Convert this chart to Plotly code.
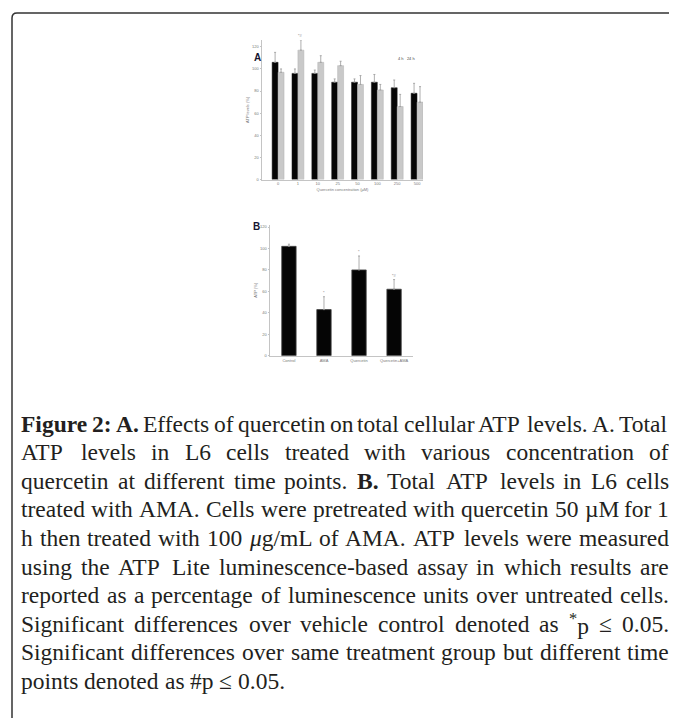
import re
import plotly.graph_objects as go

# page body has an 8px margin, so the figure is drawn 8px in from the window corner
OFF = 8
W, H = 677 - OFF, 718 - OFF

# ---------------- data ----------------
a_categories = ["0", "1", "10", "25", "50", "100", "250", "500"]
a_series_names = ["4 h", "24 h"]
a_series1 = [106, 96, 96, 88, 88, 88, 83, 78]
a_series1_err = [9, 4, 3, 3, 3, 7, 7, 9]
a_series2 = [97, 117, 106, 103, 86, 81, 66, 70]
a_series2_err = [3, 9, 6, 4, 8, 5, 11, 14]
a_marks1 = ["", "", "", "", "*", "*", "*", "*"]
a_marks2 = ["", "*#", "#", "#", "*", "*", "*#", "*#"]
a_yticks = [0, 20, 40, 60, 80, 100, 120]

b_categories = ["Control", "AMA", "Quercetin", "Quercetin+AMA"]
b_values = [102, 43, 80, 62]
b_err = [2, 12, 13, 9]
b_marks = ["", "*", "*", "*#"]
b_yticks = [0, 20, 40, 60, 80, 100, 120]

caption_lines = [
    "<b>Figure</b> <b>2:</b> <b>A.</b> Effects of quercetin on total cellular ATP levels. A. Total",
    "ATP levels in L6 cells treated with various concentration of",
    "quercetin at different time points. <b>B.</b> Total ATP levels in L6 cells",
    "treated with AMA. Cells were pretreated with quercetin 50 µM for 1",
    "h then treated with 100 <i>μ</i>g/mL of AMA. ATP levels were measured",
    "using the ATP Lite luminescence-based assay in which results are",
    "reported as a percentage of luminescence units over untreated cells.",
    "Significant differences over vehicle control denoted as <sup>*</sup>p ≤ 0.05.",
    "Significant differences over same treatment group but different time",
    "points denoted as #p ≤ 0.05.",
]

# ---------------- helpers (window pixel -> paper) ----------------
def px(xp):
    return (xp - OFF) / W


def py(yp):
    return 1 - (yp - OFF) / H


REG = {' ': 250, 'a': 444, 'b': 500, 'c': 444, 'd': 500, 'e': 444, 'f': 333, 'g': 500,
       'h': 500, 'i': 278, 'j': 278, 'k': 500, 'l': 278, 'm': 778, 'n': 500, 'o': 500,
       'p': 500, 'q': 500, 'r': 333, 's': 389, 't': 278, 'u': 500, 'v': 500, 'w': 722,
       'x': 500, 'y': 500, 'z': 444, 'A': 722, 'B': 667, 'C': 667, 'D': 722, 'E': 611,
       'F': 556, 'G': 722, 'H': 722, 'I': 333, 'L': 611, 'M': 889, 'P': 556, 'S': 556,
       'T': 611, '.': 250, ',': 250, ':': 278, '-': 333, '/': 278, '#': 500, '*': 500,
       '≤': 549, 'µ': 500, 'μ': 500, '(': 333, ')': 333}
for d in "0123456789":
    REG[d] = 500
BOLD = {'F': 611, 'i': 278, 'g': 500, 'u': 556, 'r': 444, 'e': 444, '2': 500, ':': 333,
        'A': 722, '.': 250, 'B': 667}


def word_width(word, fs):
    total = 0.0
    bold = False
    scale = 1.0
    for tok in re.split(r'(<[^>]+>)', word):
        if not tok:
            continue
        if tok.startswith('<'):
            closing = tok.startswith('</')
            t = tok.strip('<>/').lower()
            if t == 'b':
                bold = not closing
            elif t == 'sup':
                scale = 1.0 if closing else 0.7
            continue
        for ch in tok:
            w = BOLD.get(ch) if bold else None
            if w is None:
                w = REG.get(ch, 500)
            total += w * scale
    return total * fs / 1000.0


# ---------------- figure ----------------
fig = go.Figure()

fig.add_trace(go.Bar(
    x=a_categories, y=a_series1, name=a_series_names[0],
    offset=-0.3, width=0.3,
    marker=dict(color="#050505", line=dict(color="#222", width=0.5)),
    error_y=dict(type="data", array=a_series1_err, arrayminus=[0] * len(a_series1_err),
                 symmetric=False, color="#999", thickness=0.8, width=1),
    xaxis="x", yaxis="y", showlegend=False))
fig.add_trace(go.Bar(
    x=a_categories, y=a_series2, name=a_series_names[1],
    offset=0.0, width=0.3,
    marker=dict(color="#c9c9c9", line=dict(color="#b0b0b0", width=0.5)),
    error_y=dict(type="data", array=a_series2_err, arrayminus=[0] * len(a_series2_err),
                 symmetric=False, color="#999", thickness=0.8, width=1),
    xaxis="x", yaxis="y", showlegend=False))
fig.add_trace(go.Bar(
    x=b_categories, y=b_values, name="ATP",
    offset=-0.205, width=0.41,
    marker=dict(color="#050505", line=dict(color="#444", width=0.8)),
    error_y=dict(type="data", array=b_err, arrayminus=[0] * len(b_err),
                 symmetric=False, color="#999", thickness=0.8, width=1),
    xaxis="x2", yaxis="y2", showlegend=False))

annotations = []
tiny = dict(family="Liberation Sans, Arial", size=4, color="#777")

# significance marks
for c, v, e, m in zip(a_categories, a_series1, a_series1_err, a_marks1):
    if m:
        annotations.append(dict(x=c, y=v + e, xref="x", yref="y", text=m, showarrow=False,
                                xshift=-3, yanchor="bottom", font=tiny))
for c, v, e, m in zip(a_categories, a_series2, a_series2_err, a_marks2):
    if m:
        annotations.append(dict(x=c, y=v + e, xref="x", yref="y", text=m, showarrow=False,
                                xshift=3, yanchor="bottom", font=tiny))
for c, v, e, m in zip(b_categories, b_values, b_err, b_marks):
    if m:
        annotations.append(dict(x=c, y=v + e, xref="x2", yref="y2", text=m, showarrow=False,
                                yanchor="bottom", font=tiny))

# panel letters
annotations.append(dict(x=px(257), y=py(50), xref="paper", yref="paper", text="<b>A</b>",
                        showarrow=False, font=dict(family="Liberation Sans, Arial", size=10,
                                                   color="#151530")))
annotations.append(dict(x=px(256), y=py(220), xref="paper", yref="paper", text="<b>B</b>",
                        showarrow=False, font=dict(family="Liberation Sans, Arial", size=10,
                                                   color="#151530")))
# legend text for panel A
annotations.append(dict(x=px(407), y=py(54), xref="paper", yref="paper",
                        text=a_series_names[0] + "   " + a_series_names[1],
                        showarrow=False, font=dict(family="Liberation Sans, Arial", size=4,
                                                   color="#444")))

# caption (justified, word by word)
FS = 23.5
LEFT, RIGHT = 21, 669
Y0, DY = 425, 28.62
cap_font = dict(family="Liberation Serif, Times New Roman, serif", size=FS, color="#231f20")
for i, line in enumerate(caption_lines):
    words = line.split(" ")
    widths = [word_width(w, FS) for w in words]
    if i < len(caption_lines) - 1 and len(words) > 1:
        gap = (RIGHT - LEFT - sum(widths)) / (len(words) - 1)
    else:
        gap = 250 * FS / 1000.0
    xcur = LEFT
    for w, wd in zip(words, widths):
        annotations.append(dict(x=px(xcur), y=py(Y0 + DY * i), xref="paper", yref="paper",
                                text=w, showarrow=False, xanchor="left", yanchor="middle",
                                borderpad=0, borderwidth=0, font=cap_font))
        xcur += wd + gap

# frame
x0, y0, r = 12, 13, 5
frame_path = (f"M {px(x0)},{py(718 + 2)} L {px(x0)},{py(y0 + r)} "
              f"Q {px(x0)},{py(y0)} {px(x0 + r)},{py(y0)} L {px(677 + 2)},{py(y0)}")

axis_common = dict(showline=True, linecolor="#c4c4c4", linewidth=1, showgrid=False,
                   zeroline=False, tickfont=tiny)

fig.update_layout(
    width=W, height=H, autosize=False,
    margin=dict(l=0, r=0, t=0, b=0),
    paper_bgcolor="white", plot_bgcolor="white",
    barmode="overlay",
    xaxis=dict(domain=[px(262), px(423)], anchor="y", type="category",
               categoryorder="array", categoryarray=a_categories,
               range=[-0.81, 7.3], ticks="",
               title=dict(text="Quercetin concentration (µM)", font=tiny, standoff=2),
               **axis_common),
    yaxis=dict(domain=[py(180), py(40.3)], anchor="x", range=[0, 126],
               tickvals=a_yticks, ticks="outside", ticklen=1.5, tickcolor="#c4c4c4",
               title=dict(text="ATP levels (%)", font=tiny, standoff=2),
               **axis_common),
    xaxis2=dict(domain=[px(270), px(413)], anchor="y2", type="category",
                categoryorder="array", categoryarray=b_categories,
                range=[-0.54, 3.54], ticks="",
                **axis_common),
    yaxis2=dict(domain=[py(356.7), py(225.5)], anchor="x2", range=[0, 122],
                tickvals=b_yticks, ticks="outside", ticklen=1.5, tickcolor="#c4c4c4",
                title=dict(text="ATP (%)", font=tiny, standoff=2),
                **axis_common),
    annotations=annotations,
    shapes=[dict(type="path", path=frame_path, xref="paper", yref="paper",
                 line=dict(color="#333", width=1.5))],
)

fig.write_html("out.html")
